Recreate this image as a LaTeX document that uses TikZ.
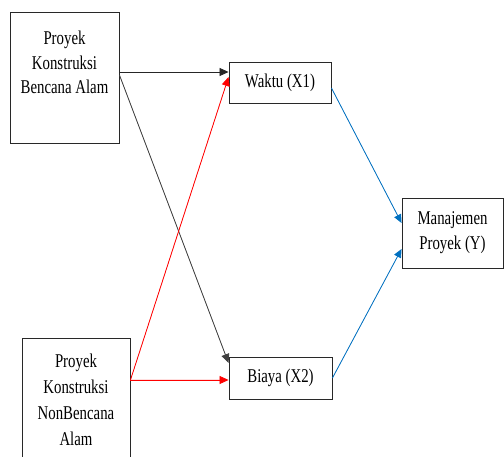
\documentclass[tikz,border=0pt]{standalone}
\usepackage{fontspec}
\setmainfont{Liberation Serif}[FakeStretch=0.76]
\usetikzlibrary{arrows.meta}
\definecolor{wordblue}{RGB}{0,112,192}
\definecolor{boxline}{RGB}{40,40,40}
\begin{document}
\begin{tikzpicture}[x=1pt,y=-1pt,
  box/.style={draw=boxline, line width=0.9pt, rectangle, inner sep=0pt},
  lbl/.style={inner sep=0pt, align=center, font=\fontsize{19.5}{24.5}\selectfont},
  tip/.style={-{Triangle[length=9pt,width=8pt]}},
  blk/.style={tip, draw=black!85, line width=0.8pt},
  redl/.style={tip, draw=red, fill=red, line width=0.8pt},
  bluel/.style={-{Triangle[length=8.5pt,width=7.5pt]}, draw=wordblue, line width=0.8pt}]
\useasboundingbox (0,0) rectangle (504,457);
\clip (0,0) rectangle (504,457);
\fill[white] (0,0) rectangle (504,457);
% boxes
\node[box, minimum width=109pt, minimum height=131pt] (A) at (64.5,77.5) {};
\node[box, minimum width=108pt, minimum height=124pt] (B) at (76,400) {};
\node[box, minimum width=102pt, minimum height=41pt, lbl] (W) at (280,82.5) {Waktu (X1)};
\node[box, minimum width=103pt, minimum height=42pt, lbl] (Bi) at (280.5,378) {Biaya (X2)};
\node[box, minimum width=101pt, minimum height=70pt, lbl, font=\fontsize{19.5}{25}\selectfont] (M) at (452.5,233) {Manajemen\\Proyek (Y)};
% texts of the tall boxes
\node[lbl, anchor=north] (At) at ([yshift=-19.5pt]A.north) {Proyek\\Konstruksi\\Bencana Alam};
\node[lbl, anchor=north, font=\fontsize{19.5}{26}\selectfont] (Bt) at ([yshift=-16.5pt]B.north) {Proyek\\Konstruksi\\NonBencana\\Alam};
% connectors
\draw[blk] ([yshift=5.5pt]A.east) -- ([yshift=10.5pt]W.west);
\draw[blk, draw=black!75, fill=black] ([yshift=2.5pt]A.east) -- ([yshift=15pt]Bi.west);
\draw[redl] ([yshift=20pt]B.east) -- ([yshift=5.5pt]W.west);
\draw[redl] ([yshift=20pt]B.east) -- ([yshift=-2pt]Bi.west);
\draw[bluel, fill=wordblue] ([yshift=-5.5pt]W.east) -- ([yshift=10pt]M.west);
\draw[bluel, fill=wordblue] (Bi.east) -- ([yshift=-16pt]M.west);
\end{tikzpicture}
\end{document}
